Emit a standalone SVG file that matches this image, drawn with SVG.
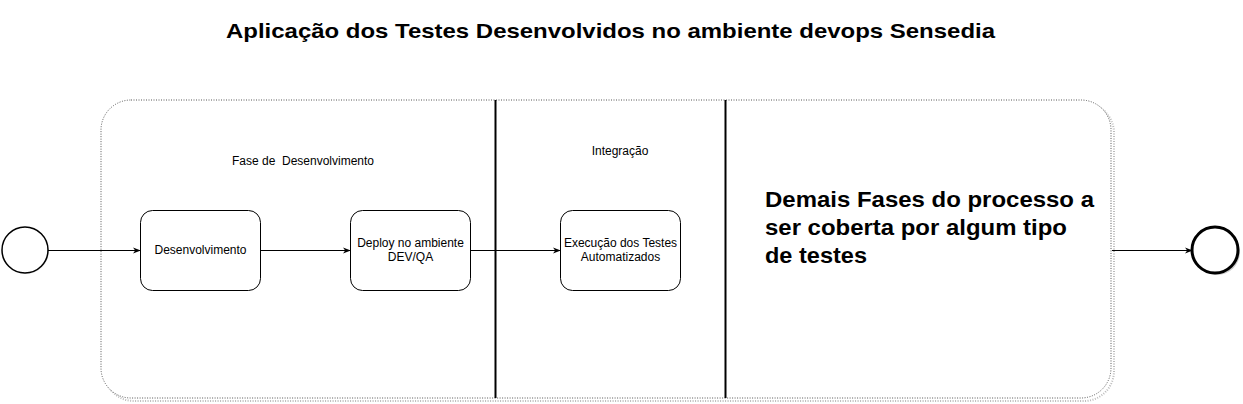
<svg xmlns="http://www.w3.org/2000/svg" width="1243" height="404" viewBox="0 0 1243 404">
<style>
.t{font-family:"Liberation Sans",Arial,sans-serif;fill:#000}
.s{font-size:12px;text-anchor:middle}
.task{fill:#fff;stroke:#000;stroke-width:1}
.c{fill:none;stroke:#000;stroke-width:1}
</style>
<defs>
<marker id="arr" viewBox="0 0 10 10" refX="9" refY="5" markerWidth="8" markerHeight="8" markerUnits="userSpaceOnUse" orient="auto">
<path d="M0,1 L10,5 L0,9 L3,5 Z" fill="#000"/>
</marker>
</defs>
<rect width="1243" height="404" fill="#fff"/>
<text class="t" x="226" y="38" font-size="21" font-weight="bold" textLength="769" lengthAdjust="spacingAndGlyphs">Aplicação dos Testes Desenvolvidos no ambiente devops Sensedia</text>
<g id="container">
<rect x="104" y="103" width="1010" height="298" rx="30" fill="none" stroke="#bbb" stroke-width="2" stroke-dasharray="1 1.5"/>
<rect x="101" y="100" width="1010" height="298" rx="30" fill="#fff" stroke="#555" stroke-width="1" stroke-dasharray="1 1.5"/>
<line x1="495.5" y1="100" x2="495.5" y2="398" stroke="#000" stroke-width="2"/>
<line x1="725.5" y1="100" x2="725.5" y2="398" stroke="#000" stroke-width="2"/>
<text class="t s" x="303" y="165" xml:space="preserve">Fase de  Desenvolvimento</text>
<text class="t s" x="620" y="155">Integração</text>
<text class="t" font-size="21.5" font-weight="bold"><tspan x="765" y="207" textLength="329" lengthAdjust="spacingAndGlyphs">Demais Fases do processo a</tspan><tspan x="765" y="235" textLength="302" lengthAdjust="spacingAndGlyphs">ser coberta por algum tipo</tspan><tspan x="765" y="263" textLength="102" lengthAdjust="spacingAndGlyphs">de testes</tspan></text>
</g>
<g id="start">
<circle cx="26" cy="251" r="23" fill="#ddd" opacity="0.6"/>
<circle cx="25" cy="250" r="23" fill="#fff" stroke="#000" stroke-width="1.5"/>
</g>
<g id="end">
<circle cx="1217" cy="252" r="23" fill="#ccc"/>
<circle cx="1215" cy="250" r="23" fill="#fff" stroke="#000" stroke-width="3"/>
</g>
<g id="desenvolvimento">
<rect class="task" x="140.5" y="210.5" width="120" height="80" rx="12"/>
<text class="t s" x="200.5" y="254">Desenvolvimento</text>
</g>
<g id="deploy">
<rect class="task" x="350.5" y="210.5" width="120" height="80" rx="12"/>
<text class="t s" x="410.5" y="247">Deploy no ambiente</text>
<text class="t s" x="410.5" y="261">DEV/QA</text>
</g>
<g id="execucao">
<rect class="task" x="560.5" y="210.5" width="120" height="80" rx="12"/>
<text class="t s" x="620.5" y="247">Execução dos Testes</text>
<text class="t s" x="620.5" y="261">Automatizados</text>
</g>
<g id="connectors">
<line class="c" x1="48" y1="250.5" x2="140" y2="250.5" marker-end="url(#arr)"/>
<line class="c" x1="260.5" y1="250.5" x2="350" y2="250.5" marker-end="url(#arr)"/>
<line class="c" x1="470.5" y1="250.5" x2="560" y2="250.5" marker-end="url(#arr)"/>
<line class="c" x1="1112" y1="250.5" x2="1192" y2="250.5" marker-end="url(#arr)"/>
</g>
</svg>
